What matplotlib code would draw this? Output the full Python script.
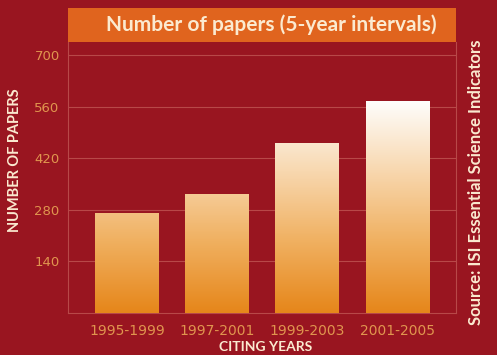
import numpy as np
import matplotlib
matplotlib.use("Agg")
import matplotlib.pyplot as plt
from matplotlib.colors import LinearSegmentedColormap
from matplotlib.patches import Rectangle

periods = ["1995-1999", "1997-2001", "1999-2003", "2001-2005"]
papers = [272, 324, 461, 575]
yticks = [140, 280, 420, 560, 700]

bg = "#991520"
tick_col = "#e0954e"
text_col = "#fbead0"

fig = plt.figure(figsize=(4.97, 3.55), dpi=100, facecolor=bg)
ax = fig.add_axes([0.1368, 0.1183, 0.7807, 0.7634], facecolor=bg)

x = np.arange(len(papers))
bars = ax.bar(x, papers, width=0.71, color="none", edgecolor="none", zorder=3)

# vertical gradient, orange at the bottom to white at the top
cmap = LinearSegmentedColormap.from_list("bar", ["#e6861a", "#f0b060", "#f8d8b0", "#ffffff"])
grad = np.linspace(0, 1, 256).reshape(-1, 1)
for b in bars:
    im = ax.imshow(grad, cmap=cmap, origin="lower", aspect="auto",
                   extent=[b.get_x(), b.get_x() + b.get_width(), 0, 580], zorder=3)
    im.set_clip_path(b)

ax.set_xlim(-0.66, 3.65)
ax.set_ylim(0, 735)
ax.set_yticks(yticks)
ax.set_xticks(x)
ax.set_xticklabels(periods)
ax.grid(axis="y", color="#b84848", linewidth=0.8, zorder=1)
ax.tick_params(axis="y", length=0, colors=tick_col, labelsize=9.5, pad=6)
ax.tick_params(axis="x", length=0, colors=tick_col, labelsize=10, pad=8)
for lab in ax.get_xticklabels() + ax.get_yticklabels():
    lab.set_family(["Liberation Sans Narrow", "DejaVu Sans Condensed", "DejaVu Sans"])
for s in ax.spines.values():
    s.set_color("#b84848")
    s.set_linewidth(0.8)
ax.spines["top"].set_visible(False)

ax.set_xlabel("CITING YEARS", color=text_col, fontsize=10, fontweight="bold",
              family="Lato")
ax.xaxis.set_label_coords(0.51, -0.105)
ax.set_ylabel("NUMBER OF PAPERS", color=text_col, fontsize=10.5, fontweight="bold",
              family="Lato")
ax.yaxis.set_label_coords(-0.118, 0.565)

# title band
fig.patches.append(Rectangle((0.1368, 0.8817), 0.7807, 0.0958, transform=fig.transFigure,
                             facecolor="#e0641e", edgecolor="none"))
fig.text(0.545, 0.929, "Number of papers (5-year intervals)", color=text_col,
         fontsize=15, fontweight="bold", family="Lato", ha="center", va="center")

fig.text(0.958, 0.487, "Source: ISI Essential Science Indicators", color=text_col,
         fontsize=12, fontweight="bold", family="Lato", rotation=90,
         ha="center", va="center")

fig.savefig("out.png", dpi=100, facecolor=bg)
